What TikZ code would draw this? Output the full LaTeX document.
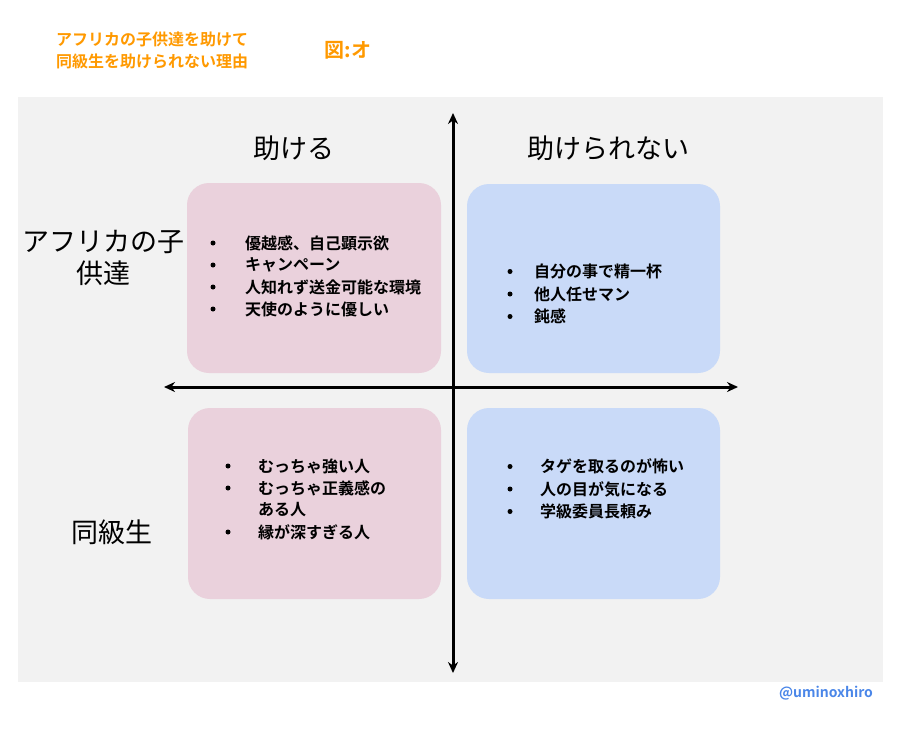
\documentclass[tikz,border=0pt]{standalone}
\usepackage{fontspec}
\newfontfamily\jpfont{Noto Sans CJK JP}
\newfontfamily\jpbold{Noto Sans CJK JP}[BoldFont={* Bold}]
\definecolor{pinkbox}{HTML}{EAD1DC}
\definecolor{bluebox}{HTML}{C9DAF8}
\definecolor{panel}{HTML}{F2F2F2}
\definecolor{titleorange}{HTML}{FF9900}
\definecolor{tagblue}{HTML}{4A86E8}
\usetikzlibrary{arrows.meta}
\tikzset{
  quad/.style={rounded corners=22pt},
  item/.style={anchor=west, inner sep=0pt, font=\jpbold\bfseries\fontsize{16}{18}\selectfont},
  dot/.style={circle, fill=black, inner sep=0pt, minimum size=5pt},
  head/.style={font=\jpfont\fontsize{27}{32}\selectfont, align=center},
  axis/.style={{Stealth[length=11pt,width=10pt]}-{Stealth[length=11pt,width=10pt]}, line width=3pt}
}
\begin{document}
\begin{tikzpicture}[x=1pt, y=-1pt]
  \useasboundingbox (0,0) rectangle (901,736);
  % title
  \node [font=\jpbold\bfseries\fontsize{16}{22}\selectfont, text=titleorange, align=center] (title) at (152,50) {アフリカの子供達を助けて\\同級生を助けられない理由};
  \node [font=\jpbold\bfseries\fontsize{20}{22}\selectfont, text=titleorange] (fig) at (348,50) {図:オ};
  % panel and boxes
  \fill [panel] (18,97) rectangle (883,682);
  \fill [pinkbox, quad] (187,183) rectangle (441,373);
  \fill [bluebox, quad] (467,184) rectangle (720,373);
  \fill [pinkbox, quad] (188,408) rectangle (441,599);
  \fill [bluebox, quad] (467,408) rectangle (720,599);
  % axes
  \coordinate (top) at (453,113);
  \coordinate (bottom) at (453,673);
  \coordinate (left) at (164,387);
  \coordinate (right) at (738,387);
  \draw [axis] (top) -- (bottom);
  \draw [axis] (left) -- (right);
  % headings
  \node [head] (help) at (294,148) {助ける};
  \node [head] (nohelp) at (608,148) {助けられない};
  \node [head] (africa) at (103,258) {アフリカの子\\供達};
  \node [head] (class) at (112,532) {同級生};
  % items
  \foreach \t [count=\i] in {優越感、自己顕示欲, キャンペーン, 人知れず送金可能な環境, 天使のように優しい} {
    \node [dot] (a-dot-\i) at (213,221+\i*22) {};
    \node [item] (a-\i) at (245,221+\i*22) {\t};
  }
  \foreach \t [count=\i] in {自分の事で精一杯, 他人任せマン, 鈍感} {
    \node [dot] (b-dot-\i) at (510,249+\i*22.5) {};
    \node [item] (b-\i) at (534,249+\i*22.5) {\t};
  }
  \foreach \t/\y [count=\i] in {むっちゃ強い人/466, むっちゃ正義感の/488, 縁が深すぎる人/532} {
    \node [dot] (c-dot-\i) at (228,\y) {};
    \node [item] (c-\i) at (258,\y) {\t};
  }
  \node [item] (c-cont) at (258,510) {ある人};
  \foreach \t [count=\i] in {タゲを取るのが怖い, 人の目が気になる, 学級委員長頼み} {
    \node [dot] (d-dot-\i) at (510,444+\i*22.5) {};
    \node [item] (d-\i) at (540,444+\i*22.5) {\t};
  }
  % signature
  \node [font=\jpbold\bfseries\fontsize{14}{16}\selectfont, text=tagblue] (sig) at (826,693) {@uminoxhiro};
\end{tikzpicture}
\end{document}
